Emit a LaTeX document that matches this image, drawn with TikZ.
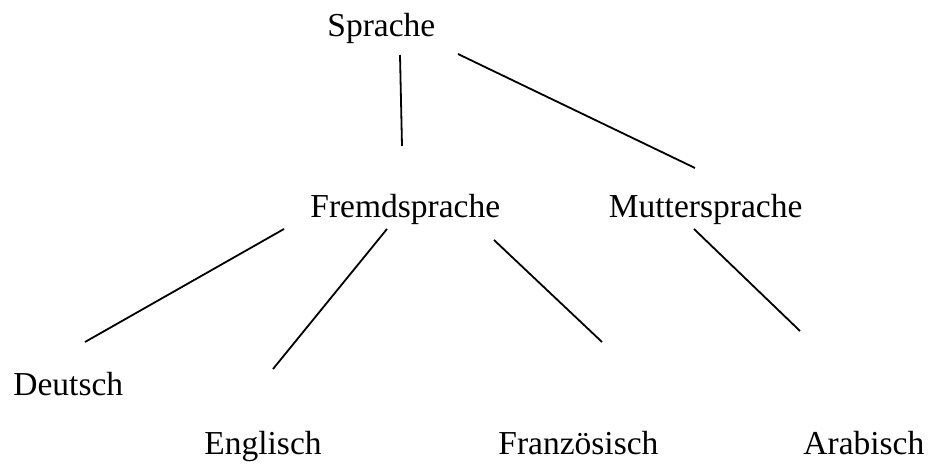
\documentclass[tikz,border=0pt]{standalone}
\usepackage{fontspec}
\setmainfont{Liberation Serif}
\begin{document}
\begin{tikzpicture}[x=0.5pt,y=-0.5pt,
    word/.style={anchor=base west,inner sep=0pt,font=\fontsize{16.75}{20}\selectfont},
    branch/.style={line width=0.9pt}]
      \useasboundingbox (0,0) rectangle (932,464);
      \node[word] (sprache) at (327,37) {Sprache};
      \node[word] (fremd) at (310,218) {Fremdsprache};
      \node[word] (mutter) at (608.5,218) {Muttersprache};
      \node[word] (deutsch) at (13,396) {Deutsch};
      \node[word] (englisch) at (204,455) {Englisch};
      \node[word] (franz) at (498,455) {Französisch};
      \node[word] (arab) at (803,455) {Arabisch};
      \coordinate (s1) at (400,55);
      \coordinate (s2) at (458,54);
      \coordinate (f0) at (402,146);
      \coordinate (m0) at (695,168);
      \coordinate (f1) at (284,229);
      \coordinate (f2) at (387,229);
      \coordinate (f3) at (494,240);
      \coordinate (m1) at (694,229);
      \coordinate (d0) at (85,342);
      \coordinate (e0) at (273,369);
      \coordinate (z0) at (602,342);
      \coordinate (a0) at (800,331);
      \draw[branch] (s1) -- (f0);
      \draw[branch] (s2) -- (m0);
      \draw[branch] (f1) -- (d0);
      \draw[branch] (f2) -- (e0);
      \draw[branch] (f3) -- (z0);
      \draw[branch] (m1) -- (a0);
    \end{tikzpicture}
\end{document}
